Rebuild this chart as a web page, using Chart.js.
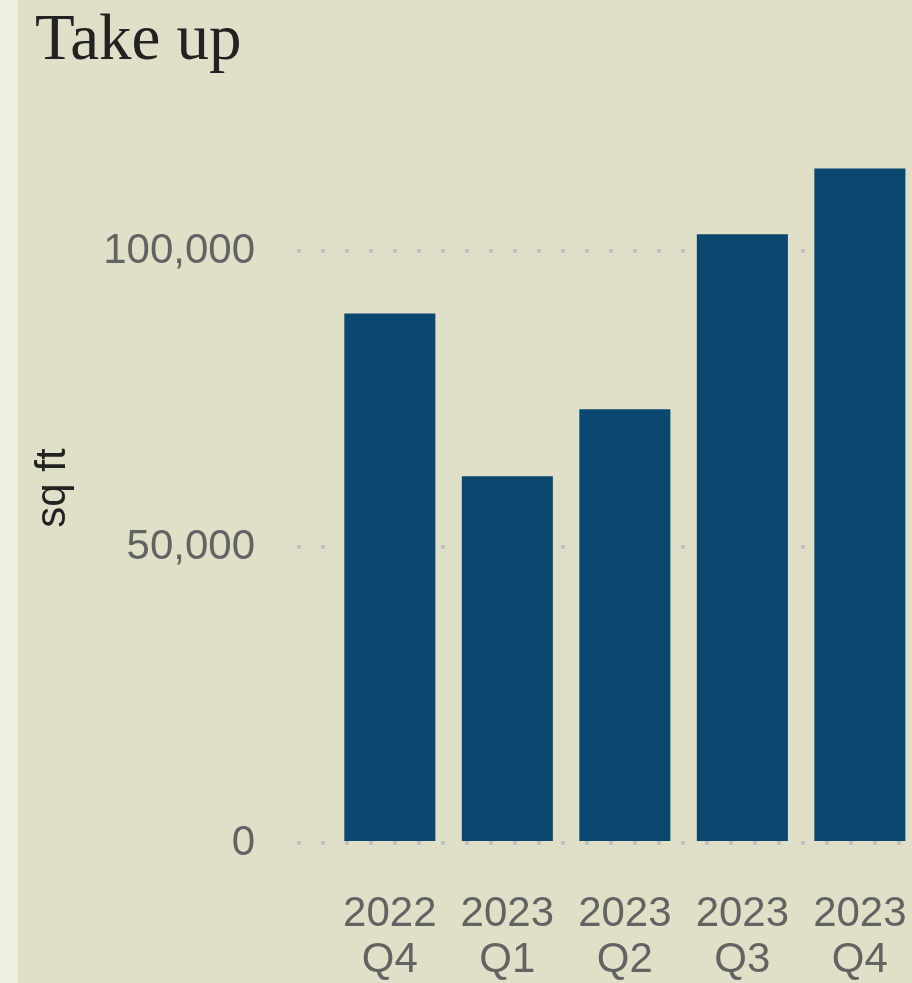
<!DOCTYPE html>
<html>
<head>
<meta charset="utf-8">
<script src="https://cdn.jsdelivr.net/npm/chart.js@4"></script>
<style>
  html, body { margin: 0; padding: 0; width: 912px; height: 983px; overflow: hidden; background: #E0E0C8; }
  #strip { position: absolute; left: 0; top: 0; width: 18px; height: 983px; background: #EEEEE3; }
  #wrap { position: absolute; left: 18px; top: 0; width: 930px; height: 983px; }
</style>
</head>
<body>
<div id="strip"></div>
<div id="wrap"><canvas id="takeup-chart" width="930" height="983"></canvas></div>
<script>
/* ── DATA ── */
const years    = ['2022', '2023', '2023', '2023', '2023'];
const quarters = ['Q4', 'Q1', 'Q2', 'Q3', 'Q4'];
const takeUp   = [89500, 62000, 73300, 102900, 114000];
const yTicks   = [0, 50000, 100000];

const C = {
  bar:   '#0B4870',
  grid:  '#C2C2BE',
  tick:  '#636363',
  title: '#222222',
};

const SANS = "'Liberation Sans', Arial, sans-serif";

new Chart(document.getElementById('takeup-chart'), {
  type: 'bar',
  data: {
    datasets: [{
      data: takeUp.map((v, i) => ({ x: i, y: v })),
      backgroundColor: C.bar,
      borderWidth: 0,
      categoryPercentage: 1,
      barPercentage: 0.775,
    }],
  },
  options: {
    responsive: false,
    animation: false,
    layout: { padding: { left: 17, right: 0, top: 0, bottom: 0 } },
    plugins: {
      legend: { display: false },
      tooltip: { enabled: false },
      title: {
        display: true,
        text: 'Take up',
        align: 'start',
        color: C.title,
        font: { family: "'Liberation Serif', Georgia, serif", size: 65, weight: 'normal', lineHeight: 1 },
        padding: { top: 9, bottom: 59 },
      },
    },
    scales: {
      x: {
        type: 'linear',
        offset: false,
        min: -0.79,
        max: 4.75,
        grid: { display: false, offset: false },
        border: { display: false },
        afterBuildTicks: s => { s.ticks = years.map((_, i) => ({ value: i })); },
        afterFit: s => { s.height = 140; s.paddingLeft = 0; s.paddingRight = 0; },
        ticks: {
          autoSkip: false,
          maxRotation: 0,
          padding: 40,
          color: C.tick,
          font: { family: SANS, size: 42, lineHeight: 1.1 },
          callback: v => [years[v], quarters[v]],
        },
      },
      y: {
        min: 0,
        max: 120000,
        border: { display: false, dash: [4, 20] },
        grid: { color: C.grid, lineWidth: 4, drawTicks: false },
        afterBuildTicks: s => { s.ticks = yTicks.map(v => ({ value: v })); },
        afterFit: s => { s.width = 262; },
        ticks: {
          padding: 42,
          color: C.tick,
          font: { family: SANS, size: 42 },
          callback: v => v.toLocaleString('en-US'),
        },
        title: {
          display: true,
          text: 'sq ft',
          color: C.title,
          font: { family: SANS, size: 42, lineHeight: 0.857 },
          padding: { top: 0, bottom: 0 },
        },
      },
    },
  },
});
</script>
</body>
</html>
